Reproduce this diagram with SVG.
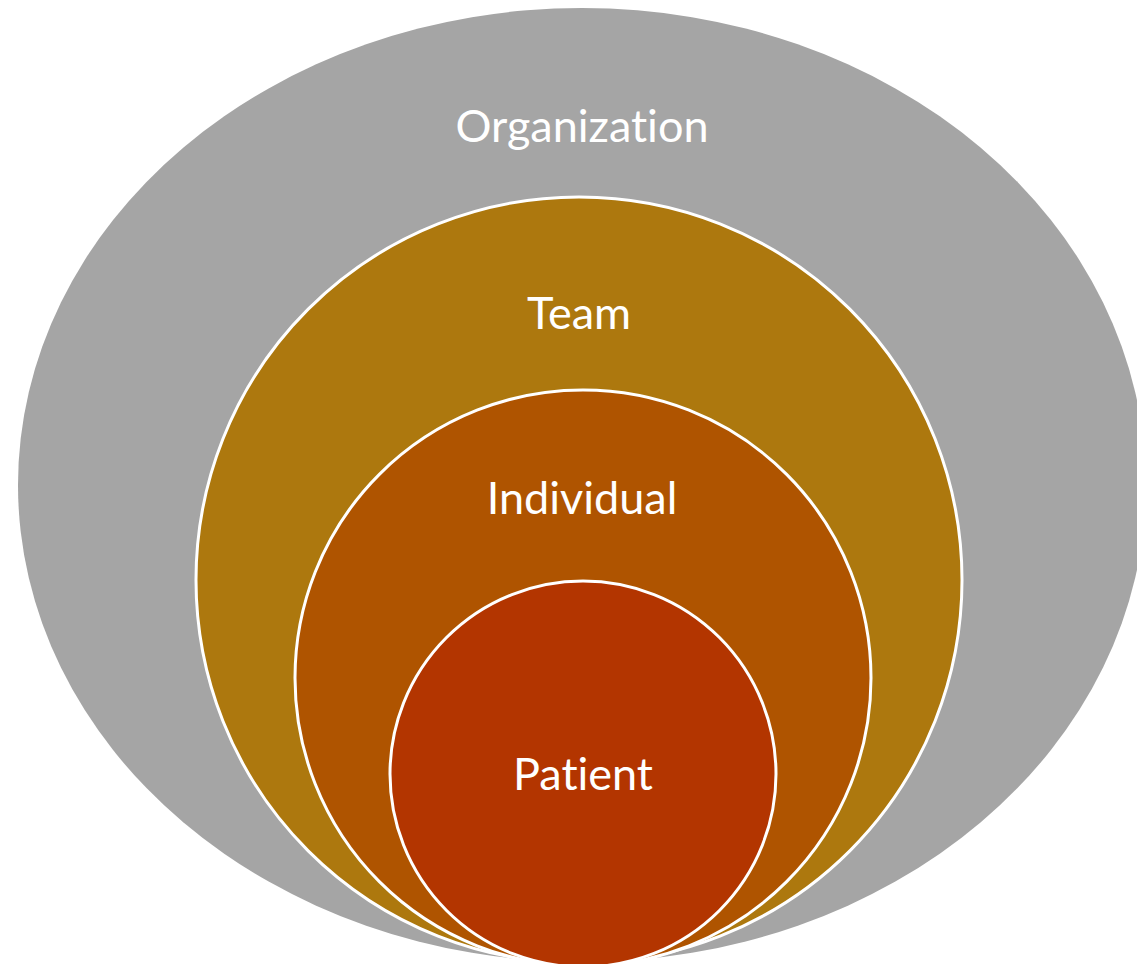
<svg xmlns="http://www.w3.org/2000/svg" width="1137" height="964" viewBox="0 0 1137 964">
  <style>
    .ring { stroke: #FFFFFF; stroke-width: 3; }
    .label { font-family: Lato, "Open Sans", "Liberation Sans", sans-serif; font-size: 45px; fill: #FFFFFF; text-anchor: middle; font-variant-ligatures: none; }
  </style>
  <rect width="1137" height="964" fill="#FFFFFF"/>
  <g id="organization">
    <ellipse cx="582" cy="485" rx="564" ry="477" fill="#A5A5A5"/>
    <text class="label" x="582" y="142">Organization</text>
  </g>
  <g id="team">
    <circle class="ring" cx="579" cy="580" r="383" fill="#AD780E"/>
    <text class="label" x="579" y="329">Team</text>
  </g>
  <g id="individual">
    <circle class="ring" cx="583" cy="678" r="288" fill="#AF5400"/>
    <text class="label" x="582" y="514">Individual</text>
  </g>
  <g id="patient">
    <circle class="ring" cx="583" cy="774" r="193" fill="#B33500"/>
    <text class="label" x="583" y="790">Patient</text>
  </g>
  <g id="connectors"/>
</svg>
